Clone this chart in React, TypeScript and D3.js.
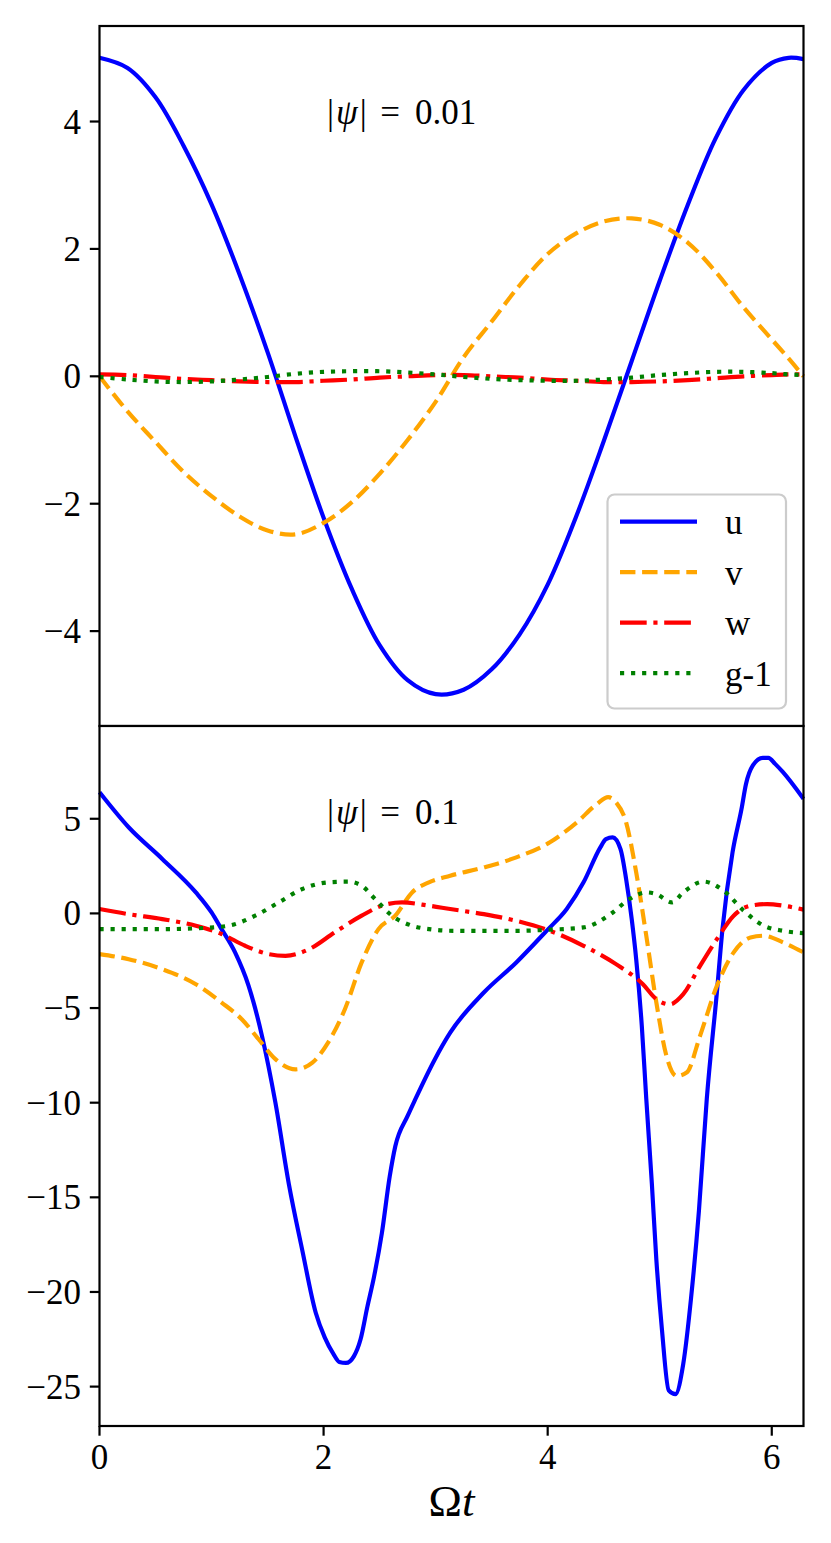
import React from "react";
import * as d3 from "d3";

// ── Data ─────────────────────────────────────────────────────────────

const TWO_PI = 2 * Math.PI;

// top panel, |psi| = 0.01
const tTop = [0, 0.25, 0.5, 0.75, 1, 1.25, 1.5, 1.75, 2, 2.25, 2.5, 2.75, 3, 3.25, 3.5, 3.75, 4, 4.25, 4.5, 4.75, 5, 5.25, 5.5, 5.75, 6, 6.15, 6.283];
const uTop = [5.0, 4.84, 4.38, 3.62, 2.7, 1.6, 0.38, -0.95, -2.22, -3.33, -4.22, -4.77, -4.99, -4.92, -4.6, -4.05, -3.27, -2.22, -1.02, 0.24, 1.5, 2.69, 3.74, 4.5, 4.92, 5.0, 4.98];
const vTop = [0, -0.55, -1.03, -1.5, -1.88, -2.2, -2.42, -2.48, -2.3, -1.98, -1.53, -1.0, -0.4, 0.3, 0.86, 1.43, 1.92, 2.24, 2.43, 2.48, 2.38, 2.1, 1.64, 1.08, 0.58, 0.28, 0];
const wTop = [0.03, 0.02, -0.01, -0.04, -0.06, -0.08, -0.09, -0.09, -0.07, -0.05, -0.02, 0.0, 0.02, 0.02, 0.0, -0.02, -0.05, -0.07, -0.09, -0.09, -0.08, -0.06, -0.03, 0.0, 0.02, 0.03, 0.03];
const gTop = [-0.01, -0.05, -0.08, -0.09, -0.08, -0.05, -0.01, 0.04, 0.07, 0.08, 0.08, 0.06, 0.03, -0.01, -0.04, -0.06, -0.07, -0.07, -0.05, -0.02, 0.02, 0.05, 0.07, 0.07, 0.05, 0.03, 0.02];

// bottom panel, |psi| = 0.1
const uBotT = [0, 0.26, 0.56, 0.86, 1.0, 1.08, 1.21, 1.33, 1.45, 1.57, 1.69, 1.81, 1.93, 2.01, 2.09, 2.14, 2.2, 2.27, 2.33, 2.39, 2.45, 2.52, 2.59, 2.64, 2.75, 2.82, 2.99, 3.13, 3.43, 3.72, 3.99, 4.17, 4.32, 4.47, 4.52, 4.58, 4.65, 4.7, 4.75, 4.79, 4.84, 4.88, 4.93, 4.97, 5.02, 5.08, 5.14, 5.21, 5.28, 5.35, 5.42, 5.51, 5.56, 5.65, 5.73, 5.77, 5.83, 5.92, 5.97, 6.03, 6.1, 6.283];
const uBot = [6.4, 4.55, 2.88, 1.11, 0.05, -0.74, -2.06, -3.81, -6.47, -10.0, -14.3, -17.8, -21.1, -22.4, -23.3, -23.7, -23.75, -23.4, -22.5, -20.8, -19.2, -16.9, -13.9, -12.3, -10.7, -9.8, -7.74, -6.3, -4.18, -2.59, -0.92, 0.23, 1.64, 3.49, 3.93, 4.02, 3.4, 1.82, -0.3, -2.42, -5.94, -9.8, -14.3, -18.3, -22.0, -25.2, -25.4, -23.8, -20.3, -15.7, -9.8, -4.18, -0.83, 3.23, 5.52, 6.84, 7.81, 8.22, 8.22, 7.9, 7.46, 6.05];

const vBotT = [0, 0.26, 0.56, 0.86, 1.09, 1.27, 1.42, 1.57, 1.75, 1.9, 2.04, 2.19, 2.34, 2.49, 2.64, 2.79, 2.94, 3.13, 3.43, 3.72, 4.02, 4.26, 4.44, 4.54, 4.61, 4.7, 4.79, 4.88, 4.97, 5.06, 5.15, 5.24, 5.36, 5.51, 5.66, 5.81, 5.93, 6.1, 6.283];
const vBot = [-2.15, -2.42, -2.95, -3.74, -4.71, -5.59, -6.65, -7.7, -8.24, -7.88, -6.83, -5.06, -2.59, -0.83, -0.12, 1.11, 1.64, 1.99, 2.43, 2.96, 3.76, 4.81, 5.78, 6.14, 5.87, 4.81, 2.17, -1.18, -4.71, -7.53, -8.59, -8.41, -6.47, -3.83, -2.06, -1.27, -1.18, -1.53, -2.06];

const wBotT = [0, 0.26, 0.56, 0.86, 1.09, 1.3, 1.51, 1.66, 1.87, 2.1, 2.34, 2.52, 2.7, 2.94, 3.13, 3.43, 3.72, 4.02, 4.32, 4.61, 4.85, 4.97, 5.09, 5.21, 5.36, 5.51, 5.66, 5.81, 5.96, 6.1, 6.283];
const wBot = [0.23, -0.04, -0.3, -0.65, -1.09, -1.71, -2.15, -2.24, -1.89, -1.0, -0.12, 0.41, 0.58, 0.41, 0.23, -0.04, -0.39, -0.92, -1.71, -2.68, -3.74, -4.53, -4.8, -4.27, -2.77, -1.36, -0.12, 0.41, 0.49, 0.41, 0.2];

const gBotT = [0, 0.26, 0.56, 0.86, 1.15, 1.39, 1.6, 1.81, 2.04, 2.22, 2.34, 2.46, 2.61, 2.79, 2.94, 3.17, 3.43, 3.72, 4.02, 4.32, 4.56, 4.73, 4.88, 4.97, 5.11, 5.21, 5.39, 5.57, 5.75, 5.93, 6.1, 6.283];
const gBot = [-0.83, -0.83, -0.83, -0.79, -0.65, -0.12, 0.58, 1.29, 1.64, 1.68, 1.46, 0.76, -0.12, -0.65, -0.83, -0.92, -0.92, -0.92, -0.86, -0.74, -0.04, 0.76, 1.11, 1.02, 0.58, 1.11, 1.68, 1.2, 0.14, -0.65, -0.92, -1.04];

const xTicks = [0, 2, 4, 6];
const yTicksTop = [-4, -2, 0, 2, 4];
const yTicksBot = [-25, -20, -15, -10, -5, 0, 5];
const labels = ["u", "v", "w", "g-1"];

// ── Styling ──────────────────────────────────────────────────────────

const W = 831;
const H = 1543;
const LEFT = 99.5;
const RIGHT = 803.5;
const LW = 4.17;
const FONT = "'Liberation Serif', 'DejaVu Serif', serif";
const FS = 35;

const STYLES = [
  { color: "#0000ff", dash: undefined },
  { color: "#ffa500", dash: `${3.7 * LW} ${1.6 * LW}` },
  { color: "#ff0000", dash: `${6.4 * LW} ${1.6 * LW} ${1 * LW} ${1.6 * LW}` },
  { color: "#008000", dash: `${1 * LW} ${1.65 * LW}` },
];

const fmt = (d: number) => (d < 0 ? `\u2212${-d}` : `${d}`);

function padded(values: number[]): [number, number] {
  const lo = d3.min(values) as number;
  const hi = d3.max(values) as number;
  const m = (hi - lo) * 0.05;
  return [lo - m, hi + m];
}

const x = d3.scaleLinear().domain([0, TWO_PI]).range([LEFT, RIGHT]);

interface Series {
  t: number[];
  v: number[];
}

function Panel({
  y0,
  y1,
  series,
  yTicks,
  psi,
  showX,
  legend,
  curve,
}: {
  y0: number;
  y1: number;
  series: Series[];
  yTicks: number[];
  psi: string;
  showX: boolean;
  legend: boolean;
  curve: d3.CurveFactory;
}) {
  const y = d3
    .scaleLinear()
    .domain(padded(series.flatMap((s) => s.v)))
    .range([y1, y0]);

  const line = d3
    .line<[number, number]>()
    .x((d) => x(d[0]))
    .y((d) => y(d[1]))
    .curve(curve);

  const legX = 607.5;
  const legY = 494.5;
  const psiBase = y0 + 98;

  return (
    <g>
      <rect x={LEFT} y={y0} width={RIGHT - LEFT} height={y1 - y0} fill="#fff" />
      {series.map((s, i) => (
        <path
          key={i}
          d={line(s.t.map((t, j) => [t, s.v[j]] as [number, number])) || ""}
          fill="none"
          stroke={STYLES[i].color}
          strokeWidth={LW}
          strokeDasharray={STYLES[i].dash}
        />
      ))}

      {/* annotation */}
      <g fontFamily={FONT} fontSize={FS} fill="#000">
        <text x={327} y={psiBase}>
          |<tspan fontStyle="italic" dx={2}>ψ</tspan>
          <tspan dx={2}>|</tspan>
        </text>
        <text x={390} y={psiBase} textAnchor="middle">
          =
        </text>
        <text x={415} y={psiBase}>
          {psi}
        </text>
      </g>

      {/* y axis */}
      {yTicks.map((d) => (
        <g key={d}>
          <line x1={LEFT - 9.7} x2={LEFT} y1={y(d)} y2={y(d)} stroke="#000" strokeWidth={2.2} />
          <text
            x={LEFT - 18.5}
            y={y(d) + 12}
            textAnchor="end"
            fontFamily={FONT}
            fontSize={FS}
          >
            {fmt(d)}
          </text>
        </g>
      ))}

      {showX &&
        xTicks.map((d) => (
          <g key={d}>
            <line x1={x(d)} x2={x(d)} y1={y1} y2={y1 + 9.7} stroke="#000" strokeWidth={2.2} />
            <text x={x(d)} y={y1 + 43} textAnchor="middle" fontFamily={FONT} fontSize={FS}>
              {fmt(d)}
            </text>
          </g>
        ))}

      {legend && (
        <g>
          <rect
            x={legX}
            y={legY}
            width={178.5}
            height={214}
            rx={7}
            fill="#fff"
            fillOpacity={0.8}
            stroke="#cccccc"
            strokeWidth={2.2}
          />
          {labels.map((lab, i) => {
            const ly = 521.7 + i * 50.5;
            return (
              <g key={lab}>
                <line
                  x1={620}
                  x2={697}
                  y1={ly}
                  y2={ly}
                  stroke={STYLES[i].color}
                  strokeWidth={LW}
                  strokeDasharray={STYLES[i].dash}
                />
                <text x={725} y={ly + 12.5} fontFamily={FONT} fontSize={FS}>
                  {lab}
                </text>
              </g>
            );
          })}
        </g>
      )}

      <rect
        x={LEFT}
        y={y0}
        width={RIGHT - LEFT}
        height={y1 - y0}
        fill="none"
        stroke="#000"
        strokeWidth={2.2}
      />
    </g>
  );
}

export default function App() {
  const top: Series[] = [
    { t: tTop, v: uTop },
    { t: tTop, v: vTop },
    { t: tTop, v: wTop },
    { t: tTop, v: gTop },
  ];
  const bottom: Series[] = [
    { t: uBotT, v: uBot },
    { t: vBotT, v: vBot },
    { t: wBotT, v: wBot },
    { t: gBotT, v: gBot },
  ];

  return (
    <div style={{ position: "absolute", left: 0, top: 0 }}>
      <svg width={W} height={H} style={{ display: "block", background: "#fff" }}>
        <Panel
          y0={26}
          y1={726}
          series={top}
          yTicks={yTicksTop}
          psi="0.01"
          showX={false}
          legend
          curve={d3.curveCatmullRom}
        />
        <Panel
          y0={726}
          y1={1426}
          series={bottom}
          yTicks={yTicksBot}
          psi="0.1"
          showX
          legend={false}
          curve={d3.curveMonotoneX}
        />
        <text x={(LEFT + RIGHT) / 2} y={1516} textAnchor="middle" fontFamily={FONT} fontSize={45}>
          Ω<tspan fontStyle="italic">t</tspan>
        </text>
      </svg>
    </div>
  );
}
